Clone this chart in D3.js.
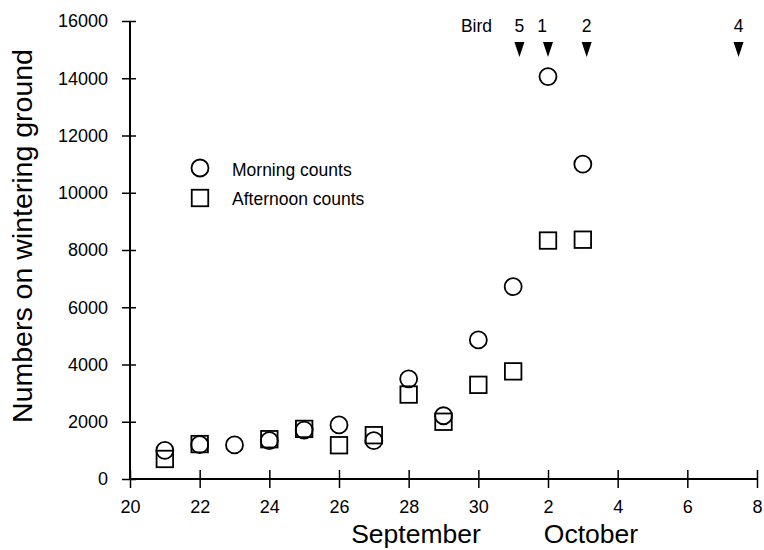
<!DOCTYPE html>
<html>
<head>
<meta charset="utf-8">
<script src="https://cdn.jsdelivr.net/npm/d3@7"></script>
<style>
  html, body { margin: 0; padding: 0; background: #fff; }
  svg { display: block; font-family: "Liberation Sans", Arial, Helvetica, sans-serif; }
</style>
</head>
<body>
<svg id="chart" width="764" height="550"></svg>
<script>
// Day numbers: September days as-is, October days as 30 + day (Oct 1 = 31)
const morningDays   = [21, 22, 23, 24, 25, 26, 27, 28, 29, 30, 31, 32, 33];
const morningCounts = [1000, 1200, 1190, 1340, 1710, 1890, 1340, 3500, 2210, 4860, 6720, 14060, 11000];

const afternoonDays   = [21, 22, 24, 25, 26, 27, 28, 29, 30, 31, 32, 33];
const afternoonCounts = [700, 1220, 1390, 1750, 1180, 1530, 2950, 2000, 3290, 3760, 8330, 8360];

const xTickValues = [20, 22, 24, 26, 28, 30, 32, 34, 36, 38];
const xTickLabels = ["20", "22", "24", "26", "28", "30", "2", "4", "6", "8"];
const yTickValues = [0, 2000, 4000, 6000, 8000, 10000, 12000, 14000, 16000];

const birdIds      = ["5", "1", "2", "4"];
const birdArrivals = [31.18, 32.0, 33.11, 37.47];

const monthLabels = ["September", "October"];
const legendLabels = ["Morning counts", "Afternoon counts"];

const svg = d3.select("#chart");
const x = d3.scaleLinear().domain([20, 38]).range([130, 757]);
const y = d3.scaleLinear().domain([0, 16000]).range([479, 21]);

// Y axis
const yAxis = d3.axisLeft(y).tickValues(yTickValues).tickSize(0).tickPadding(22)
  .tickFormat(d3.format("d"));
const gy = svg.append("g").attr("transform", `translate(${x(20)},0)`).call(yAxis);
gy.select(".domain").remove();
gy.selectAll("text").attr("font-size", 18).attr("fill", "#000")
  .attr("font-family", "Liberation Sans, Arial, sans-serif");
gy.selectAll(".tick").append("line")
  .attr("x1", -8).attr("x2", 6).attr("stroke", "#000").attr("stroke-width", 1.5);
svg.append("line").attr("x1", x(20)).attr("x2", x(20))
  .attr("y1", y(0)).attr("y2", y(16000)).attr("stroke", "#000").attr("stroke-width", 2);

// X axis
const xAxis = d3.axisBottom(x).tickValues(xTickValues).tickSize(0).tickPadding(21)
  .tickFormat((d, i) => xTickLabels[i]);
const gx = svg.append("g").attr("transform", `translate(0,${y(0)})`).call(xAxis);
gx.select(".domain").remove();
gx.selectAll("text").attr("font-size", 18).attr("fill", "#000")
  .attr("font-family", "Liberation Sans, Arial, sans-serif");
gx.selectAll(".tick").append("line")
  .attr("y1", -9).attr("y2", 9).attr("stroke", "#000").attr("stroke-width", 1.5);
svg.append("line").attr("x1", x(20)).attr("x2", x(38))
  .attr("y1", y(0)).attr("y2", y(0)).attr("stroke", "#000").attr("stroke-width", 2);

// Month labels
svg.append("text").attr("x", 416).attr("y", 543).attr("text-anchor", "middle")
  .attr("font-size", 26.5).text(monthLabels[0]);
svg.append("text").attr("x", 591).attr("y", 543).attr("text-anchor", "middle")
  .attr("font-size", 26.5).text(monthLabels[1]);

// Y label
svg.append("text").attr("transform", "translate(32,236) rotate(-90)")
  .attr("text-anchor", "middle").attr("font-size", 28.5).text("Numbers on wintering ground");

// Markers
const R = 8.5, S = 16.5;
svg.append("g").selectAll("circle").data(morningDays).join("circle")
  .attr("cx", d => x(d)).attr("cy", (d, i) => y(morningCounts[i])).attr("r", R)
  .attr("fill", "none").attr("stroke", "#000").attr("stroke-width", 1.8);
svg.append("g").selectAll("rect").data(afternoonDays).join("rect")
  .attr("x", d => x(d) - S / 2).attr("y", (d, i) => y(afternoonCounts[i]) - S / 2)
  .attr("width", S).attr("height", S)
  .attr("fill", "none").attr("stroke", "#000").attr("stroke-width", 1.8);

// Legend
svg.append("circle").attr("cx", 200).attr("cy", 168).attr("r", R)
  .attr("fill", "none").attr("stroke", "#000").attr("stroke-width", 1.8);
svg.append("rect").attr("x", 200 - S / 2).attr("y", 198 - S / 2).attr("width", S).attr("height", S)
  .attr("fill", "none").attr("stroke", "#000").attr("stroke-width", 1.8);
svg.append("text").attr("x", 232).attr("y", 176).attr("font-size", 17.5).text(legendLabels[0]);
svg.append("text").attr("x", 232).attr("y", 205).attr("font-size", 17.5).text(legendLabels[1]);

// Bird arrival arrows
svg.append("text").attr("x", 492).attr("y", 32).attr("text-anchor", "end")
  .attr("font-size", 17.5).text("Bird");
const labelShift = { "1": -6 };
const arrows = svg.append("g").selectAll("g").data(birdArrivals).join("g")
  .attr("transform", d => `translate(${x(d)},0)`);
arrows.append("path").attr("d", "M-5,42 L5,42 L0,57 Z").attr("fill", "#000");
arrows.append("text").attr("x", (d, i) => labelShift[birdIds[i]] || 0).attr("y", 32)
  .attr("text-anchor", "middle").attr("font-size", 17.5).text((d, i) => birdIds[i]);
</script>
</body>
</html>
